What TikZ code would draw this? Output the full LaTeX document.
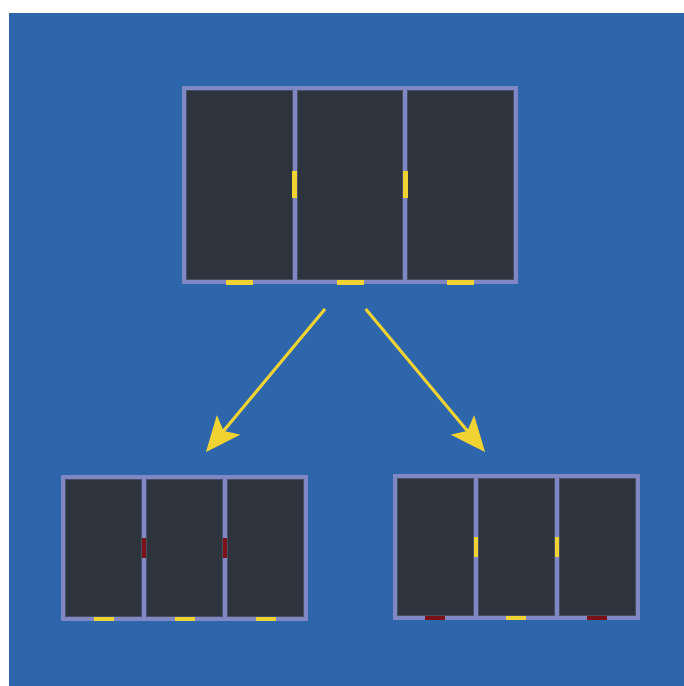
\documentclass[tikz,border=0pt]{standalone}
\usepackage{tikz}
\usetikzlibrary{arrows.meta,positioning}
\definecolor{bgblue}{HTML}{2E66AC}
\definecolor{roomfill}{HTML}{2E343E}
\definecolor{cellline}{HTML}{4A5064}
\definecolor{wallcol}{HTML}{7F88C4}
\definecolor{doorok}{HTML}{F0D232}
\definecolor{doorno}{HTML}{7A1218}
\tikzstyle{wall}=[draw=wallcol,line width=2pt]
\tikzstyle{room}=[draw=cellline,line width=0.5pt]
\tikzstyle{flow}=[draw=doorok,line width=1.5pt,-{Stealth[length=17.5pt,width=15pt,inset=3.8pt]}]

\begin{document}
\begin{tikzpicture}[
        x=0.5pt,
        y=-0.5pt
        ]
        \useasboundingbox (0,0) rectangle (684,686);
        \fill[bgblue] (9,13) rectangle (684,686);
        % the three layouts
        \foreach \l/\t/\r/\b in {184/88/516/282, 63/477/306/619, 395/476.3/637.7/618.3} {
            \pgfmathsetmacro\cw{(\r-\l)/3}
            \fill[roomfill] (\l,\t) rectangle (\r,\b);
            \foreach \k in {0,1,2}
                \draw[room] ({\l+\k*\cw+2.5},{\t+2.5}) rectangle ({\l+(\k+1)*\cw-2.5},{\b-2.5});
            \draw[wall] (\l,\t) rectangle (\r,\b);
            \foreach \k in {1,2}
                \draw[wall] ({\l+\k*\cw},\t) -- ({\l+\k*\cw},\b);
        }
        % doors
        \foreach \x/\y/\w/\h/\c in {
            294.67/184.5/5/27/doorok, 405.33/184.5/5/27/doorok,
            239.33/282/27/5/doorok, 350/282/27/5/doorok, 460.67/282/27/5/doorok,
            144/548/4/20/doorno, 225/548/4/20/doorno,
            103.5/619/20/4/doorok, 184.5/619/20/4/doorok, 265.5/619/20/4/doorok,
            475.9/547.3/4/20/doorok, 556.8/547.3/4/20/doorok,
            435.4/618.3/20/4/doorno, 516.3/618.3/20/4/doorok, 597.2/618.3/20/4/doorno}
            \fill[\c] ({\x-\w/2},{\y-\h/2}) rectangle ({\x+\w/2},{\y+\h/2});
        % branches
        \coordinate (lstart) at (325,309);
        \coordinate (ltip) at (206,452);
        \coordinate (rstart) at (365.7,309);
        \coordinate (rtip) at (485,452);
        \draw[flow] (lstart) -- (ltip);
        \draw[flow] (rstart) -- (rtip);
    \end{tikzpicture}
\end{document}
